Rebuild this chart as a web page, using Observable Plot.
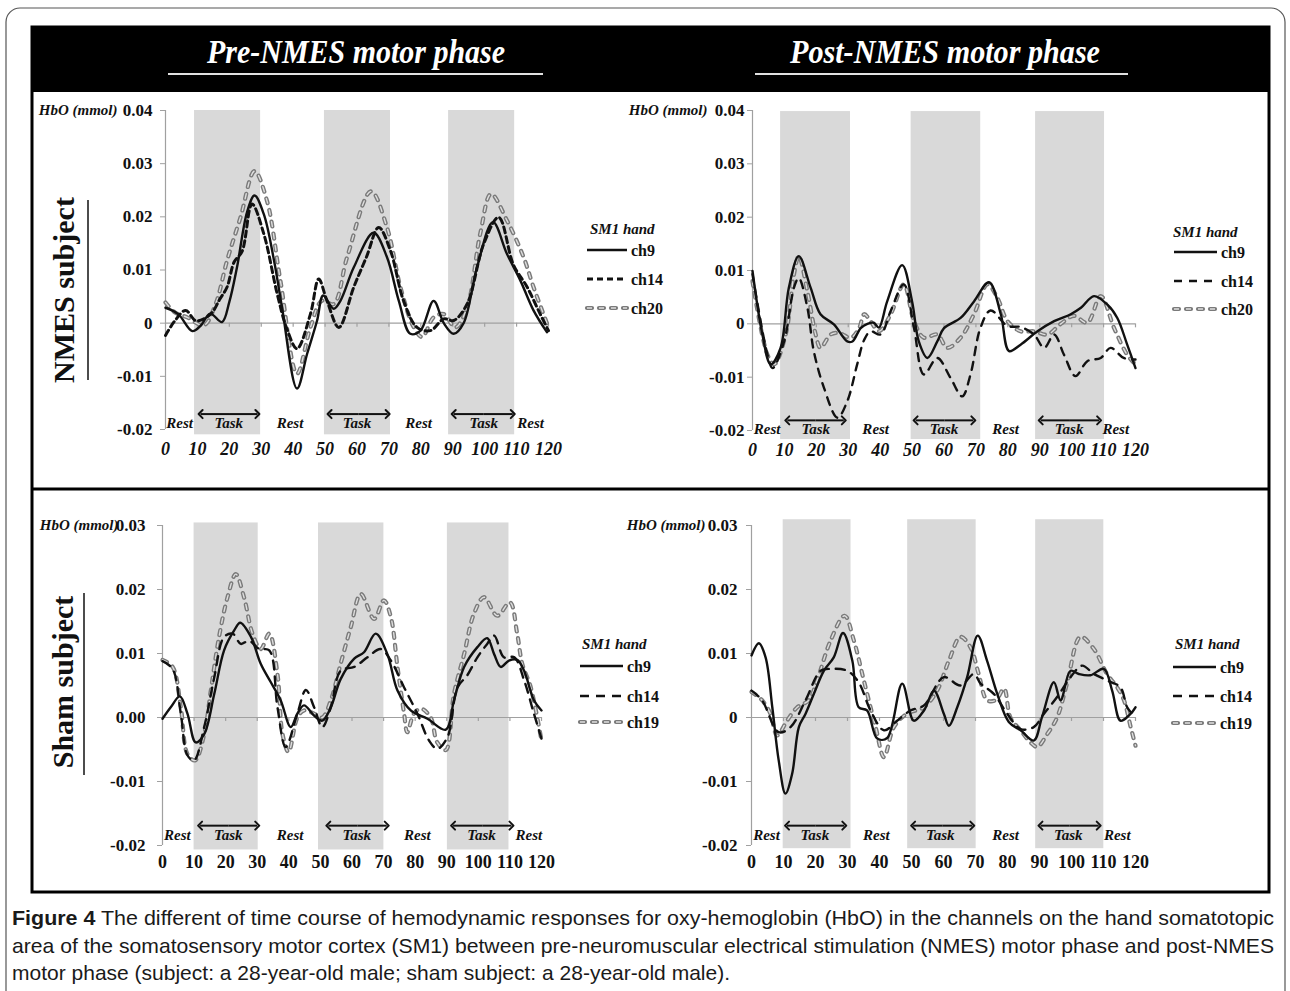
<!DOCTYPE html>
<html>
<head>
<meta charset="utf-8">
<script src="https://cdn.jsdelivr.net/npm/d3@7"></script>
<script src="https://cdn.jsdelivr.net/npm/@observablehq/plot@0.6"></script>
<style>
  html, body { margin: 0; padding: 0; background: #fff; }
  #page { position: relative; width: 1290px; height: 991px; overflow: hidden; background: #fff; }
  #deco { position: absolute; left: 0; top: 0; }
  .panel { position: absolute; }
</style>
</head>
<body>
<div id="page"><svg id="deco" width="1290" height="991"></svg></div>
<script>
// ---------------- DATA ----------------
const xTicks = [0, 10, 20, 30, 40, 50, 60, 70, 80, 90, 100, 110, 120];
const topYTicks = [-0.02, -0.01, 0, 0.01, 0.02, 0.03, 0.04];
const bottomYTicks = [-0.02, -0.01, 0, 0.01, 0.02, 0.03];

const columnTitles = ["Pre-NMES motor phase", "Post-NMES motor phase"];
const rowTitles = ["NMES subject", "Sham subject"];
const legendTitle = "SM1 hand";
const nmesChannels = ["ch9", "ch14", "ch20"];
const shamChannels = ["ch9", "ch14", "ch19"];
const yLabel = "HbO (mmol)";

// task blocks (shaded), seconds
const preNmesBands  = [[9.1, 29.8], [49.8, 70.5], [88.7, 109.4]];
const postNmesBands = [[8.8, 30.7], [49.7, 71.5], [88.7, 110.3]];
const preShamBands  = [[10, 30.3], [49.4, 70.1], [90.2, 109.7]];
const postShamBands = [[9.9, 31.1], [48.8, 70.2], [88.8, 110.1]];

// NMES subject, pre-NMES
const preNmes_ch9_t = [0, 4, 8.4, 11, 14, 17.7, 20, 22.4, 25.6, 27.9, 30.8, 34, 36.5, 41.2, 44.4, 47.5, 49.4, 52.7, 54.8, 59, 65.2, 69.4, 73.1, 76.7, 79.9, 84, 87.2, 90.3, 93.4, 97.6, 102.6, 107, 111.2, 115.3, 119.5];
const preNmes_ch9_v = [0.0029, 0.0017, -0.0015, -0.0005, 0.0018, 0.0002, 0.004, 0.0105, 0.021, 0.024, 0.0205, 0.0118, 0.003, -0.0123, -0.0057, 0.0005, 0.0052, 0.0027, 0.0042, 0.0105, 0.017, 0.0124, 0.0042, -0.002, -0.0014, 0.0042, 0, -0.002, 0, 0.0105, 0.019, 0.013, 0.008, 0.0024, -0.0017];
const preNmes_ch14_t = [0, 3, 6.3, 9.4, 12, 14.6, 17, 19.3, 21.5, 24, 27.1, 30.8, 35, 38, 41.2, 45.4, 48, 50.6, 54.3, 59, 63, 66.8, 70.5, 74.6, 78.8, 83, 87.2, 90.3, 94.5, 99.7, 104.4, 109, 113.3, 117.4, 120];
const preNmes_ch14_v = [-0.0023, 0.0005, 0.0024, 0.0005, 0.0008, 0.002, 0.0045, 0.0068, 0.0115, 0.0135, 0.0224, 0.0168, 0.0055, -0.001, -0.0048, 0.0017, 0.0083, 0.0042, -0.0008, 0.0068, 0.0125, 0.018, 0.0136, 0.0042, -0.0008, -0.0014, 0.0008, 0.0005, 0.0036, 0.0149, 0.0199, 0.011, 0.0068, 0.0017, -0.0014];
const preNmes_ch20_t = [0, 3, 6.8, 12, 15.7, 19.3, 23.5, 27.9, 31.8, 36, 41.2, 45.4, 49, 52.7, 56.9, 64.4, 69.4, 73.6, 77.8, 80.4, 84, 87.2, 90.8, 94.5, 98.6, 102, 107, 112.2, 115.3, 120];
const preNmes_ch20_v = [0.0039, 0.002, 0.0011, -0.0004, 0.0036, 0.0118, 0.0199, 0.0286, 0.023, 0.008, -0.0095, -0.0008, 0.0042, 0.0036, 0.0124, 0.0248, 0.018, 0.0068, -0.0008, -0.0026, 0.0011, 0.0017, -0.0008, 0.003, 0.0168, 0.0243, 0.0193, 0.0124, 0.0068, -0.0008];

// NMES subject, post-NMES
const postNmes_ch9_t = [0, 3.1, 5.7, 8.8, 11.4, 14.5, 18.2, 21.3, 25.5, 29.7, 31.3, 33.9, 36, 38, 39.6, 42.2, 46.9, 50, 52.1, 54.8, 57.9, 60, 65.2, 69.4, 74.1, 77.8, 80.4, 84, 89.3, 94.5, 99.7, 102.9, 107, 111.2, 114.3, 117.4, 120];
const postNmes_ch9_v = [0.0099, -0.002, -0.0076, -0.0045, 0.0068, 0.0127, 0.0068, 0.0018, -0.0001, -0.0033, -0.0033, -0.0008, 0, 0.0002, -0.0007, 0.0042, 0.011, 0.0042, -0.0033, -0.0064, -0.0033, -0.0008, 0.0011, 0.0042, 0.0078, 0.0018, -0.0051, -0.0039, -0.0014, 0.0005, 0.0018, 0.003, 0.0052, 0.0036, 0.0011, -0.0039, -0.0083];
const postNmes_ch14_t = [0, 4.7, 6.3, 9.9, 13, 14.5, 17.2, 19.2, 22.4, 26.6, 29.7, 32.8, 35, 37, 40.1, 43.3, 47.4, 50.6, 53.7, 57.9, 62, 65.7, 68.3, 71.4, 74.6, 79.9, 84, 88.2, 91.4, 94.5, 97.6, 101.2, 104.9, 109.1, 112.2, 116.3, 120];
const postNmes_ch14_v = [0.0093, -0.0058, -0.0083, -0.0033, 0.0068, 0.0086, 0.003, -0.0051, -0.012, -0.0176, -0.0145, -0.0076, -0.003, -0.0014, -0.002, 0.0024, 0.0074, -0.0008, -0.0095, -0.0064, -0.0101, -0.0136, -0.0095, -0.0008, 0.0025, -0.0004, -0.0006, -0.002, -0.0045, -0.002, -0.0058, -0.0098, -0.007, -0.0064, -0.0045, -0.0064, -0.0067];
const postNmes_ch20_t = [0, 4.7, 6.8, 10.4, 13, 14.5, 17.2, 19.8, 21.3, 24.5, 27.1, 30.8, 33.4, 35, 37, 39.6, 43.3, 47.4, 50.6, 53.7, 57.9, 61, 65.2, 69.4, 73.6, 76.7, 79.9, 84, 88.2, 92.4, 96.6, 100.7, 104.9, 109.1, 113.3, 117.4, 120];
const postNmes_ch20_v = [0.008, -0.0058, -0.0076, -0.002, 0.0093, 0.0127, 0.0061, -0.002, -0.0045, -0.002, -0.0017, -0.0026, -0.0008, 0.0018, 0.0005, -0.0014, 0.0018, 0.0074, 0.0005, -0.0026, -0.002, -0.0045, -0.0026, 0.0018, 0.0074, 0.0049, 0.0005, -0.0014, -0.0014, -0.002, 0, 0.0015, 0.0002, 0.0052, -0.0008, -0.0058, -0.0076];

// Sham subject, pre-NMES
const preSham_ch9_t = [0, 2.6, 5.5, 7.9, 10.5, 13.2, 16.4, 19.5, 22.7, 24.6, 28, 31.1, 34.3, 37.4, 40.6, 42.7, 44.8, 48, 50.6, 53.3, 56.4, 60.7, 63.8, 67.5, 71.2, 74.4, 78.6, 83.9, 89.7, 92.3, 95.5, 99.7, 102.8, 105, 107.1, 109.7, 112.3, 114.5, 117.6, 120];
const preSham_ch9_v = [-0.0002, 0.0016, 0.0033, 0.0006, -0.0039, -0.0026, 0.0037, 0.0105, 0.0136, 0.0148, 0.0126, 0.0084, 0.0055, 0.0027, -0.0015, 0.0006, 0.0019, 0.0003, -0.0005, 0.0016, 0.006, 0.0092, 0.0102, 0.0131, 0.0099, 0.0042, 0.0011, -0.0002, -0.0019, 0.0027, 0.0079, 0.011, 0.0124, 0.0099, 0.0079, 0.0089, 0.009, 0.0073, 0.0027, 0.0011];
const preSham_ch14_t = [0, 3.2, 5.8, 7.9, 10, 13.2, 16.4, 19.5, 22.2, 24.8, 27.4, 30.6, 33.8, 36.4, 39, 42.7, 45.4, 48, 50.6, 53.3, 56.4, 60.7, 64.9, 69.1, 72.3, 76.5, 80.7, 84.4, 87, 90.2, 93.4, 96.5, 99.7, 102.8, 105, 108.1, 111.4, 114.5, 117.6, 120];
const preSham_ch14_v = [0.0088, 0.0076, 0.0006, -0.0059, -0.0067, -0.0015, 0.0063, 0.0126, 0.0131, 0.0115, 0.012, 0.0107, 0.0105, 0.0016, -0.0046, 0.0006, 0.0043, 0.0016, -0.0015, 0.0016, 0.0073, 0.0079, 0.0094, 0.0107, 0.0089, 0.0047, 0.0006, -0.0036, -0.0049, -0.0031, 0.0047, 0.0066, 0.0094, 0.0115, 0.0128, 0.0094, 0.0094, 0.0058, 0.0006, -0.0033];
const preSham_ch19_t = [0, 3.2, 5.8, 7.9, 10.3, 13.2, 15.3, 17.9, 20.6, 23.2, 25.8, 28.5, 31.1, 33.8, 36.4, 38, 39.9, 42.7, 44.8, 48, 50.6, 53.3, 56.4, 59.6, 62.8, 67, 70.1, 72.3, 74.4, 76.5, 77.5, 79.6, 81.8, 84.9, 87, 89.7, 92.3, 95.5, 98.6, 101.8, 106, 110, 112.3, 113.9, 116.6, 120];
const preSham_ch19_v = [0.009, 0.0079, 0.0016, -0.0057, -0.0067, -0.0026, 0.0042, 0.0126, 0.0188, 0.0224, 0.0188, 0.0131, 0.0107, 0.0131, 0.0068, -0.0026, -0.0054, 0, 0.0011, 0.0006, 0, 0.0027, 0.0084, 0.0141, 0.0193, 0.0154, 0.0183, 0.0157, 0.0079, 0.0006, -0.0023, 0.0006, 0.0014, 0, -0.0039, -0.0051, 0.0037, 0.0099, 0.0162, 0.0188, 0.0159, 0.018, 0.0131, 0.0084, 0.0047, -0.0036];

// Sham subject, post-NMES
const postSham_ch9_t = [0, 2.3, 4.4, 6.5, 8.5, 10.6, 12.7, 14.8, 16.9, 19.5, 22.6, 25.7, 28.6, 31.5, 33.5, 36.1, 39.3, 42.4, 47.1, 50.7, 53.9, 57, 60.1, 61.7, 64.3, 67.4, 70.7, 73.6, 76.8, 80.4, 84.1, 88.2, 90.8, 94.5, 96.6, 99.7, 102.3, 105.9, 110.1, 112.7, 115.3, 117.9, 120];
const postSham_ch9_v = [0.0097, 0.0116, 0.0094, 0.0016, -0.0067, -0.0119, -0.0088, -0.0015, 0.0006, 0.0037, 0.0073, 0.0094, 0.0132, 0.0089, 0.0016, 0.0011, -0.0033, -0.0032, 0.0053, -0.0005, 0.0011, 0.0042, 0.0006, -0.0013, 0.0016, 0.0063, 0.0128, 0.0089, 0.0037, -0.0007, -0.002, -0.0036, 0.0001, 0.0055, 0.0027, 0.0073, 0.0068, 0.0066, 0.0076, 0.0042, -0.0005, 0.0003, 0.0016];
const postSham_ch14_t = [0, 3.3, 8.5, 12.2, 16.9, 21.6, 24.7, 29.9, 33.5, 37.2, 41.4, 45.5, 49.7, 53.9, 60.1, 65.3, 69.5, 71.6, 75.7, 79.9, 84.1, 88.2, 91.4, 95.5, 99.7, 103.3, 107, 111.1, 115.3, 117.4, 120];
const postSham_ch14_v = [0.0042, 0.0027, -0.0023, -0.0015, 0.0027, 0.0073, 0.0076, 0.0073, 0.0055, 0.0011, -0.002, -0.0005, 0.0011, 0.0019, 0.0063, 0.005, 0.0068, 0.0053, 0.0037, 0.0006, -0.0018, -0.0015, 0.0006, 0.0032, 0.0063, 0.0081, 0.0068, 0.0058, 0.0047, 0.0016, 0];
const postSham_ch19_t = [0, 3.3, 5.9, 8, 11.1, 14.3, 17.9, 20.5, 24.7, 29.1, 32, 35.1, 38.8, 41.4, 44.5, 48.6, 53.9, 58, 61.7, 65.3, 68.4, 71, 73.6, 76.3, 78.9, 80.9, 84.1, 87.2, 89.3, 92.4, 95.5, 98.6, 102.8, 107, 111.1, 114.3, 116.4, 118.5, 120];
const postSham_ch19_v = [0.004, 0.0027, 0.0006, -0.0028, -0.0005, 0.0016, 0.0027, 0.0058, 0.012, 0.0159, 0.012, 0.0058, -0.0015, -0.0062, -0.0015, 0.0006, 0.0016, 0.0042, 0.0089, 0.0126, 0.011, 0.0068, 0.0027, 0.0027, 0.0045, 0, -0.002, -0.0039, -0.0046, -0.0026, 0, 0.0053, 0.0126, 0.0107, 0.0068, 0.0047, 0.0027, -0.0015, -0.0044];

// Rest / Task annotation positions (seconds)
const preNmesRest = [4.4, 39, 79.3, 114.4], preNmesTask = [19.8, 60, 99.7], preNmesArrows = [[11, 28.8], [51.4, 69.6], [90.3, 108.8]];
const postNmesRest = [4.6, 38.6, 79.3, 113.8], postNmesTask = [19.8, 60, 99.2], postNmesArrows = [[10.9, 28.6], [51.1, 69.2], [90.3, 108.6]];
const preShamRest = [4.7, 40.4, 80.7, 116], preShamTask = [20.8, 61.5, 101], preShamArrows = [[11.9, 30], [52.5, 71], [92, 110.5]];
const postShamRest = [4.7, 39, 79.4, 114.3], postShamTask = [19.8, 59, 99], postShamArrows = [[11.1, 29], [50.5, 69], [90.3, 108.5]];

const captionBold = "Figure 4";
const captionLines = [
  " The different of time course of hemodynamic responses for oxy-hemoglobin (HbO) in the channels on the hand somatotopic",
  "area of the somatosensory motor cortex (SM1) between pre-neuromuscular electrical stimulation (NMES) motor phase and post-NMES",
  "motor phase (subject: a 28-year-old male; sham subject: a 28-year-old male)."
];

// ---------------- HELPERS ----------------
const SERIF = "'Liberation Serif', 'Times New Roman', serif";
const series = (t, v) => t.map((x, i) => ({t: x, v: v[i]}));
const GRAY_OUT = "#7a7a7a", GRAY_IN = "#dedede";
const fmtTop = d => (d === 0 ? "0" : d.toFixed(2));
const fmtFixed = d => d.toFixed(2);

function lineMarks(data, st) {
  const base = {x: "t", y: "v", curve: "catmull-rom"};
  if (st.kind === "solid") return [Plot.line(data, {...base, stroke: "#111", strokeWidth: 2.4})];
  if (st.kind === "dash") return [Plot.line(data, {...base, stroke: "#111", strokeWidth: st.w, strokeDasharray: st.dash})];
  return [
    Plot.line(data, {...base, stroke: GRAY_OUT, strokeWidth: 4.2, strokeDasharray: "5,7", strokeLinecap: "round"}),
    Plot.line(data, {...base, stroke: GRAY_IN, strokeWidth: 1.4, strokeDasharray: "5,7"})
  ];
}

const panels = [
  {x0: 165, x1: 548, yTop: 110, yBot: 429, yDomain: [-0.02, 0.04], yTicks: topYTicks, fmt: fmtTop, pad: 8,
   xItalic: true, xOffset: 13, bands: preNmesBands, bandTop: 0.04, bandBottom: -0.021,
   rest: preNmesRest, task: preNmesTask, arrows: preNmesArrows, restY: -0.0188, arrowY: -0.0171, hboDx: -48,
   dash: {kind: "dash", w: 3, dash: "6,4"},
   data: [series(preNmes_ch20_t, preNmes_ch20_v), series(preNmes_ch14_t, preNmes_ch14_v), series(preNmes_ch9_t, preNmes_ch9_v)]},
  {x0: 752, x1: 1135, yTop: 110, yBot: 430, yDomain: [-0.02, 0.04], yTicks: topYTicks, fmt: fmtTop, pad: 3,
   xItalic: true, xOffset: 13, bands: postNmesBands, bandTop: 0.0398, bandBottom: -0.0217,
   rest: postNmesRest, task: postNmesTask, arrows: postNmesArrows, restY: -0.0197, arrowY: -0.0181, hboDx: -45,
   dash: {kind: "dash", w: 2.4, dash: "8,7"},
   data: [series(postNmes_ch20_t, postNmes_ch20_v), series(postNmes_ch14_t, postNmes_ch14_v), series(postNmes_ch9_t, postNmes_ch9_v)]},
  {x0: 162, x1: 541, yTop: 525, yBot: 845, yDomain: [-0.02, 0.03], yTicks: bottomYTicks, fmt: fmtFixed, pad: 12,
   xItalic: false, xOffset: 10, bands: preShamBands, bandTop: 0.0304, bandBottom: -0.0207,
   rest: preShamRest, task: preShamTask, arrows: preShamArrows, restY: -0.0184, arrowY: -0.0169, hboDx: -44,
   dash: {kind: "dash", w: 2.4, dash: "9,7"},
   data: [series(preSham_ch19_t, preSham_ch19_v), series(preSham_ch14_t, preSham_ch14_v), series(preSham_ch9_t, preSham_ch9_v)]},
  {x0: 751, x1: 1135, yTop: 525, yBot: 845, yDomain: [-0.02, 0.03], yTicks: bottomYTicks, fmt: fmtTop, pad: 9,
   xItalic: false, xOffset: 10, bands: postShamBands, bandTop: 0.0309, bandBottom: -0.0205,
   rest: postShamRest, task: postShamTask, arrows: postShamArrows, restY: -0.0184, arrowY: -0.0169, hboDx: -46,
   dash: {kind: "dash", w: 2.4, dash: "9,7"},
   data: [series(postSham_ch19_t, postSham_ch19_v), series(postSham_ch14_t, postSham_ch14_v), series(postSham_ch9_t, postSham_ch9_v)]}
];

const page = document.getElementById("page");
const ML = 140, MR = 12, MT = 14, MB = 45;

panels.forEach(p => {
  const plotW = p.x1 - p.x0, plotH = p.yBot - p.yTop;
  const [ymin, ymax] = p.yDomain;
  const tickLen = (ymax - ymin) * 4 / plotH;
  // each double-headed arrow = two halves from its centre outwards
  const halves = p.arrows.flatMap(([a, b]) => [{from: (a + b) / 2, to: a}, {from: (a + b) / 2, to: b}]);
  const marks = [
    Plot.rect(p.bands, {x1: d => d[0], x2: d => d[1], y1: p.bandBottom, y2: p.bandTop, fill: "#d9d9d9"}),
    Plot.ruleY([0], {stroke: "#a0a0a0", strokeWidth: 1.2}),
    Plot.ruleX(xTicks.slice(1), {x: d => d, y1: 0, y2: -tickLen, stroke: "#a0a0a0", strokeWidth: 1.2}),
    Plot.ruleX([0], {y1: ymin, y2: ymax, stroke: "#a0a0a0", strokeWidth: 1.2}),
    Plot.axisY({ticks: p.yTicks, tickFormat: p.fmt, tickSize: 5, tickPadding: p.pad, stroke: "#a0a0a0",
      fill: "#111", fontSize: 17, fontWeight: "bold", fontFamily: SERIF, label: null}),
    Plot.axisX({ticks: xTicks, tickFormat: d => String(d), tickSize: 0, tickPadding: p.xOffset, fill: "#111",
      fontSize: 18, fontWeight: "bold", fontStyle: p.xItalic ? "italic" : "normal", fontFamily: SERIF, label: null}),
    ...lineMarks(p.data[0], {kind: "double"}),
    ...lineMarks(p.data[1], p.dash),
    ...lineMarks(p.data[2], {kind: "solid"}),
    Plot.text(p.rest, {x: d => d, y: p.restY, text: () => "Rest", fontSize: 15, fontWeight: "bold", fontStyle: "italic", fontFamily: SERIF, fill: "#111"}),
    Plot.text(p.task, {x: d => d, y: p.restY, text: () => "Task", fontSize: 15, fontWeight: "bold", fontStyle: "italic", fontFamily: SERIF, fill: "#111"}),
    Plot.link(halves, {x1: "from", x2: "to", y1: p.arrowY, y2: p.arrowY, stroke: "#111", strokeWidth: 2,
      markerEnd: "arrow"}),
    Plot.text([yLabel], {x: 0, y: ymax, dx: p.hboDx, textAnchor: "end", text: d => d, fontSize: 15, fontWeight: "bold",
      fontStyle: "italic", fontFamily: SERIF, fill: "#111"})
  ];
  const fig = Plot.plot({
    width: ML + plotW + MR, height: MT + plotH + MB,
    marginLeft: ML, marginRight: MR, marginTop: MT, marginBottom: MB,
    x: {domain: [0, 120]}, y: {domain: p.yDomain},
    style: {background: "transparent", overflow: "visible", fontFamily: SERIF, color: "#111"},
    marks
  });
  fig.classList.add("panel");
  fig.style.left = (p.x0 - ML) + "px";
  fig.style.top = (p.yTop - MT) + "px";
  page.appendChild(fig);
});

// ---------------- DECORATION (frame, titles, legends, caption) ----------------
const svg = d3.select("#deco");
svg.append("rect").attr("x", 6).attr("y", 8).attr("width", 1279).attr("height", 1010).attr("rx", 14)
  .attr("fill", "none").attr("stroke", "#555").attr("stroke-width", 1.2);
svg.append("rect").attr("x", 32).attr("y", 27).attr("width", 1237).attr("height", 65).attr("fill", "#000");
svg.append("rect").attr("x", 32).attr("y", 27).attr("width", 1237).attr("height", 865)
  .attr("fill", "none").attr("stroke", "#000").attr("stroke-width", 3);
svg.append("line").attr("x1", 32).attr("x2", 1269).attr("y1", 489).attr("y2", 489).attr("stroke", "#000").attr("stroke-width", 3);

// column titles
[{cx: 356, w: 298, u: [168, 543]}, {cx: 945, w: 310, u: [755, 1128]}].forEach((c, i) => {
  svg.append("text").attr("x", c.cx).attr("y", 63).attr("text-anchor", "middle")
    .attr("textLength", c.w).attr("lengthAdjust", "spacingAndGlyphs")
    .attr("fill", "#fff").attr("font-family", SERIF).attr("font-style", "italic").attr("font-weight", "bold")
    .attr("font-size", 33).text(columnTitles[i]);
  svg.append("line").attr("x1", c.u[0]).attr("x2", c.u[1]).attr("y1", 74).attr("y2", 74)
    .attr("stroke", "#e0e0e0").attr("stroke-width", 2);
});

// row titles
[{x: 74, y: 290, line: [88, 200, 380]}, {x: 73, y: 682, line: [84, 593, 775]}].forEach((r, i) => {
  svg.append("text").attr("transform", `translate(${r.x},${r.y}) rotate(-90)`).attr("text-anchor", "middle")
    .attr("font-family", SERIF).attr("font-weight", "bold").attr("font-size", 30).attr("fill", "#111").text(rowTitles[i]);
  svg.append("line").attr("x1", r.line[0]).attr("x2", r.line[0]).attr("y1", r.line[1]).attr("y2", r.line[2])
    .attr("stroke", "#111").attr("stroke-width", 1.5);
});

// legends
const legends = [
  {tx: 590, ty: 234, lx: [587, 627], ys: [250, 279, 308], names: nmesChannels, dash: "6,4", dw: 3},
  {tx: 1173, ty: 237, lx: [1174, 1217], ys: [252, 281, 309], names: nmesChannels, dash: "8,7", dw: 2.4},
  {tx: 582, ty: 649, lx: [580, 623], ys: [666, 696, 722], names: shamChannels, dash: "9,7", dw: 2.4},
  {tx: 1175, ty: 649, lx: [1173, 1216], ys: [667, 696, 723], names: shamChannels, dash: "9,7", dw: 2.4}
];
legends.forEach(L => {
  svg.append("text").attr("x", L.tx).attr("y", L.ty).attr("font-family", SERIF).attr("font-style", "italic")
    .attr("font-weight", "bold").attr("font-size", 15).attr("fill", "#111").text(legendTitle);
  L.names.forEach((n, i) => {
    const y = L.ys[i];
    const ln = () => svg.append("line").attr("x1", L.lx[0]).attr("x2", L.lx[1]).attr("y1", y).attr("y2", y);
    if (i === 0) ln().attr("stroke", "#111").attr("stroke-width", 2.4);
    if (i === 1) ln().attr("stroke", "#111").attr("stroke-width", L.dw).attr("stroke-dasharray", L.dash);
    if (i === 2) {
      ln().attr("stroke", GRAY_OUT).attr("stroke-width", 4.2).attr("stroke-dasharray", "5,7").attr("stroke-linecap", "round");
      ln().attr("stroke", GRAY_IN).attr("stroke-width", 1.4).attr("stroke-dasharray", "5,7");
    }
    svg.append("text").attr("x", L.lx[1] + 4).attr("y", y + 5.5).attr("font-family", SERIF).attr("font-weight", "bold")
      .attr("font-size", 16).attr("fill", "#111").text(n);
  });
});

// caption
const CAP_FONT = "'Liberation Sans Narrow', 'Liberation Sans', Arial, sans-serif";
const capLayout = [{y: 925, w: 1262}, {y: 953, w: 1262}, {y: 980, w: 718}];
captionLines.forEach((line, i) => {
  const t = svg.append("text").attr("x", 12).attr("y", capLayout[i].y).attr("font-family", CAP_FONT)
    .attr("font-size", 21).attr("fill", "#1a1a1a").attr("textLength", capLayout[i].w).attr("lengthAdjust", "spacingAndGlyphs");
  if (i === 0) t.append("tspan").attr("font-weight", "bold").text(captionBold);
  t.append("tspan").text(line);
});
</script>
</body>
</html>
